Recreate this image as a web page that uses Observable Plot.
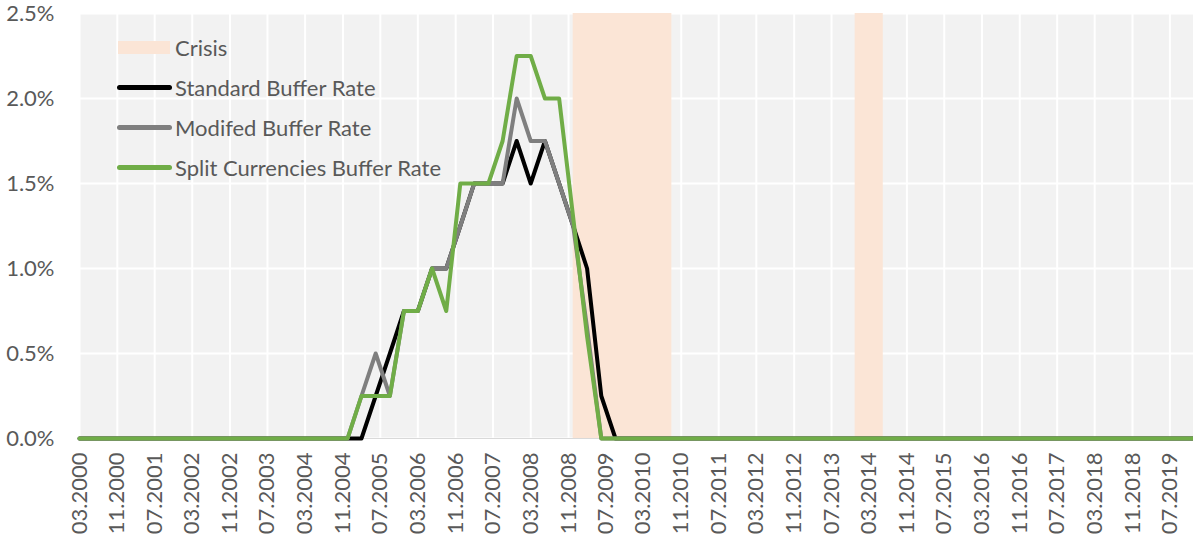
<!DOCTYPE html>
<html><head><meta charset="utf-8">
<script src="https://cdn.jsdelivr.net/npm/d3@7"></script>
<script src="https://cdn.jsdelivr.net/npm/@observablehq/plot@0.6"></script>
<style>
body{margin:0;background:#fff;}
#wrap{position:relative;width:1193px;height:536px;font-family:Lato,sans-serif;}
#legend{position:absolute;left:117px;top:27px;color:#595959;font-size:22px;font-family:Lato,sans-serif;}
.item{display:flex;align-items:center;height:40px;white-space:nowrap;}
.sw{flex:none;margin-right:3px;}
</style></head>
<body><div id="wrap"><div id="legend"></div></div>
<script>
// Quarterly observation dates (MM.YYYY); values in percent
const quarters = ["03.2000","09.2004","12.2004","03.2005","06.2005","09.2005","12.2005","03.2006","06.2006","09.2006","12.2006","03.2007","06.2007","09.2007","12.2007","03.2008","06.2008","09.2008","12.2008","03.2009","06.2009","09.2009","12.2009","12.2019"];
const standardRate = [0,0,0,0,0.25,0.5,0.75,0.75,1.0,1.0,1.25,1.5,1.5,1.5,1.75,1.5,1.75,1.5,1.25,1.0,0.25,0,0,0];
const modifiedRate = [0,0,0,0.25,0.5,0.25,0.75,0.75,1.0,1.0,1.25,1.5,1.5,1.5,2.0,1.75,1.75,1.5,1.25,0.65,0,0,0,0];
const splitRate    = [0,0,0,0.25,0.25,0.25,0.75,0.75,1.0,0.75,1.5,1.5,1.5,1.75,2.25,2.25,2.0,2.0,1.3,0.6,0,0,0,0];
const seriesNames = ["Standard Buffer Rate","Modifed Buffer Rate","Split Currencies Buffer Rate"];
const seriesColors = ["#000000","#7F7F7F","#70AD47"];
const crisisLabel = "Crisis";
const crisisColor = "#FBE5D6";
const crisisStart = ["12.2008","12.2013"];
const crisisEnd   = ["09.2010","06.2014"];
const tickLabels = ["03.2000","11.2000","07.2001","03.2002","11.2002","07.2003","03.2004","11.2004","07.2005","03.2006","11.2006","07.2007","03.2008","11.2008","07.2009","03.2010","11.2010","07.2011","03.2012","11.2012","07.2013","03.2014","11.2014","07.2015","03.2016","11.2016","07.2017","03.2018","11.2018","07.2019"];
const yTicks = [0, 0.5, 1.0, 1.5, 2.0, 2.5];

const parseMY = s => { const [m, y] = s.split("."); return new Date(Date.UTC(+y, +m - 1, 1)); };
const seriesValues = [standardRate, modifiedRate, splitRate];
const rows = [];
seriesNames.forEach((name, k) => quarters.forEach((q, i) => rows.push({date: parseMY(q), value: seriesValues[k][i] / 100, series: name})));
const crisis = crisisStart.map((s, i) => ({start: parseMY(s), end: parseMY(crisisEnd[i])}));
const tickDates = tickLabels.map(parseMY);

const chart = Plot.plot({
  width: 1193, height: 536,
  marginLeft: 79, marginRight: 0, marginTop: 13, marginBottom: 98,
  style: {fontFamily: "Lato, sans-serif", fontSize: "22px", color: "#595959", background: "white"},
  x: {type: "utc", domain: [parseMY(quarters[0]), parseMY(quarters[quarters.length - 1])]},
  y: {domain: [0, yTicks[yTicks.length - 1] / 100]},
  color: {domain: seriesNames, range: seriesColors},
  marks: [
    Plot.frame({fill: "#F2F2F2", stroke: null}),
    Plot.gridY(yTicks.map(v => v / 100), {stroke: "white", strokeWidth: 2, strokeOpacity: 1}),
    Plot.gridX(tickDates, {stroke: "white", strokeWidth: 2, strokeOpacity: 1}),
    Plot.rect(crisis, {x1: "start", x2: "end", fill: crisisColor}),
    Plot.ruleY([0], {stroke: "#D9D9D9", strokeWidth: 1}),
    Plot.line(rows, {x: "date", y: "value", stroke: "series", z: "series", strokeWidth: 4, strokeLinejoin: "round", strokeLinecap: "round"}),
    Plot.axisY(yTicks.map(v => v / 100), {tickFormat: d3.format(".1%"), tickSize: 0, tickPadding: 25, label: null, fill: "#595959"}),
    Plot.axisX(tickDates, {tickFormat: d3.utcFormat("%m.%Y"), tickRotate: -90, tickSize: 0, tickPadding: 14, label: null, fill: "#595959"})
  ]
});
const wrap = document.getElementById("wrap");
wrap.insertBefore(chart, wrap.firstChild);
chart.style.position = "absolute"; chart.style.left = "0"; chart.style.top = "0";

const legend = document.getElementById("legend");
const items = [{label: crisisLabel, color: crisisColor, kind: "rect"}].concat(seriesNames.map((n, i) => ({label: n, color: seriesColors[i], kind: "line"})));
items.forEach(it => {
  const div = document.createElement("div"); div.className = "item";
  const sw = document.createElement("span"); sw.className = "sw";
  if (it.kind === "rect") { sw.style.cssText = `width:52px;height:13px;background:${it.color};margin-left:1px;margin-right:5px;`; }
  else { sw.style.cssText = `width:55px;height:5px;border-radius:3px;background:${it.color};`; }
  const tx = document.createElement("span"); tx.textContent = it.label;
  div.appendChild(sw); div.appendChild(tx); legend.appendChild(div);
});
</script>
</body></html>
